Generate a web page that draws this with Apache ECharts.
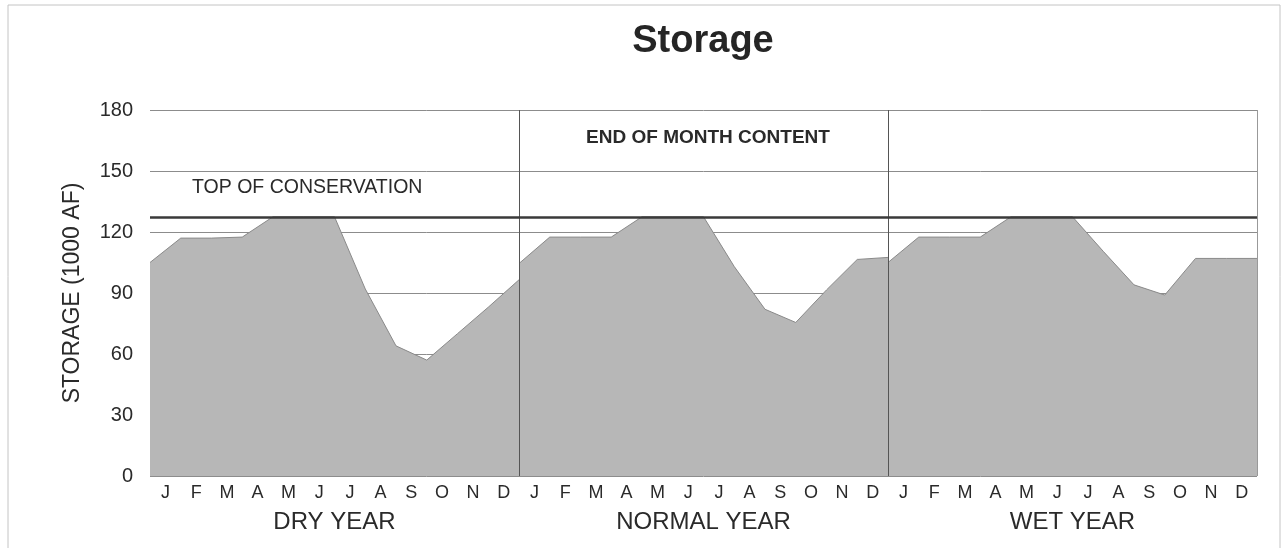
<!DOCTYPE html>
<html>
<head>
    <meta charset="utf-8">
    <title>Storage</title>
    <script src="https://cdn.jsdelivr.net/npm/echarts@6/dist/echarts.min.js"></script>
    <style>
        html, body { margin: 0; padding: 0; background: #fff; }
        #chart { width: 1285px; height: 550px; }
    </style>
</head>
<body>
<div id="chart"></div>
<script type="text/javascript">
// end-of-month content, 1000 AF; first value = start of year
var dryYear    = [105, 117, 117, 117.5, 127.5, 127.5, 127.5, 92, 64, 57, 70, 83, 96.5];
var normalYear = [104.5, 117.5, 117.5, 117.5, 127.5, 127.5, 127.5, 103, 82, 75.5, 91.5, 106.5, 107.5];
var wetYear    = [105, 117.5, 117.5, 117.5, 127.5, 127.5, 127.5, 110.5, 94, 89, 107, 107, 107];

var months = ['J', 'F', 'M', 'A', 'M', 'J', 'J', 'A', 'S', 'O', 'N', 'D'];
var yearNames = ['DRY YEAR', 'NORMAL YEAR', 'WET YEAR'];
var topOfConservation = 127.5;
var yTicks = { min: 0, max: 180, step: 30 };

var font = 'Liberation Sans, Arial, sans-serif';
var textColor = '#2a2a2a';
var fillColor = '#b7b7b7';

var monthLabels = months.concat(months, months);

function toPoints(values, offset) {
    return values.map(function (v, i) { return [offset + i, v]; });
}

function areaSeries(values, offset) {
    return {
        type: 'line',
        xAxisIndex: 0,
        data: toPoints(values, offset),
        symbol: 'none',
        lineStyle: { color: '#8a8a8a', width: 1 },
        areaStyle: { color: fillColor, opacity: 1 },
        itemStyle: { color: fillColor },
        silent: true,
        z: 2
    };
}

var series = [
    areaSeries(dryYear, 0),
    areaSeries(normalYear, 12),
    areaSeries(wetYear, 24)
];

// panel dividers, right border and top of conservation line
series[0].markLine = {
    silent: true,
    symbol: 'none',
    label: { show: false },
    z: 5,
    data: [
        { xAxis: 12, lineStyle: { color: '#555', width: 1, type: 'solid' } },
        { xAxis: 24, lineStyle: { color: '#555', width: 1, type: 'solid' } },
        { xAxis: 36, lineStyle: { color: '#999', width: 1, type: 'solid' } },
        { yAxis: topOfConservation, lineStyle: { color: '#3a3a3a', width: 2.5, type: 'solid' } }
    ]
};

var chart = echarts.init(document.getElementById('chart'), null, { renderer: 'canvas' });

chart.setOption({
    backgroundColor: '#fff',
    animation: false,
    textStyle: { fontFamily: font },
    grid: { left: 150, right: 28, top: 110, bottom: 74 },
    xAxis: [
        {
            type: 'value',
            min: 0,
            max: 36,
            interval: 12,
            show: false
        },
        {
            type: 'category',
            data: monthLabels,
            boundaryGap: true,
            position: 'bottom',
            axisLine: { show: false },
            axisTick: { show: false },
            splitLine: { show: false },
            axisLabel: { interval: 0, fontSize: 18, color: textColor, margin: 8, fontFamily: font }
        },
        {
            type: 'category',
            data: yearNames,
            boundaryGap: true,
            position: 'bottom',
            axisLine: { show: false },
            axisTick: { show: false },
            splitLine: { show: false },
            axisLabel: { interval: 0, fontSize: 24, color: textColor, margin: 34, fontFamily: font }
        }
    ],
    yAxis: {
        type: 'value',
        min: yTicks.min,
        max: yTicks.max,
        interval: yTicks.step,
        name: 'STORAGE (1000 AF)',
        nameLocation: 'middle',
        nameGap: 66,
        nameTextStyle: { fontSize: 23, color: textColor, fontFamily: font },
        axisLine: { show: false },
        axisTick: { show: false },
        axisLabel: { fontSize: 20, color: textColor, margin: 17, fontFamily: font },
        splitLine: { show: true, lineStyle: { color: '#8c8c8c', width: 1 } }
    },
    graphic: [
        {
            type: 'polyline',
            silent: true,
            z: -1,
            shape: { points: [[8, 548], [8, 5], [1280, 5], [1280, 548]] },
            style: { stroke: '#c4c4c4', lineWidth: 1, fill: null }
        },
        {
            type: 'text',
            x: 703, y: 42,
            style: {
                text: 'Storage',
                font: 'bold 38px ' + font,
                fill: '#252525',
                align: 'center',
                verticalAlign: 'middle'
            }
        },
        {
            type: 'text',
            x: 192, y: 188,
            z: 10,
            style: {
                text: 'TOP OF CONSERVATION',
                font: '19.5px ' + font,
                fill: textColor,
                align: 'left',
                verticalAlign: 'middle'
            }
        },
        {
            type: 'text',
            x: 708, y: 138,
            z: 10,
            style: {
                text: 'END OF MONTH CONTENT',
                font: 'bold 19px ' + font,
                fill: textColor,
                align: 'center',
                verticalAlign: 'middle'
            }
        }
    ],
    series: series
});
</script>
</body>
</html>
